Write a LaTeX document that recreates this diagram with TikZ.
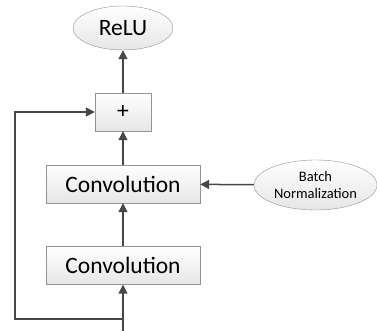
\documentclass[tikz,border=0pt]{standalone}
\usepackage{fontspec}
\setmainfont{Carlito}
\usetikzlibrary{arrows.meta,positioning,shapes.geometric}

\begin{document}
\begin{tikzpicture}[
  x=1pt, y=-1pt,
  block/.style={rectangle, draw=gray!85, top color=white, bottom color=gray!20, inner sep=0pt, font=\fontsize{23.5}{26}\selectfont},
  oval/.style={ellipse, draw=gray!85, top color=white, bottom color=gray!20, inner sep=0pt},
  link/.style={draw=black!72, line width=1.5pt, -{Triangle[length=9pt,width=9pt]}}
]
\useasboundingbox (0,0) rectangle (377,331);

% ==================
% Blocks
% ==================
\node[oval, minimum width=100pt, minimum height=44pt, font=\fontsize{23.5}{26}\selectfont] (relu) at (123,28) {ReLU};
\node[block, minimum width=56pt, minimum height=38pt] (add) at (123,112) {+};
\node[block, minimum width=154pt, minimum height=38pt] (conv1) at (123,184) {Convolution};
\node[block, minimum width=154pt, minimum height=38pt] (conv2) at (123,265.5) {Convolution};
\node[oval, minimum width=123pt, minimum height=50pt, align=center, font=\fontsize{14.5}{17}\selectfont] (bn) at (315.5,185) {Batch\\Normalization};

% ==================
% Skip path
% ==================
\coordinate (in) at (123,331);
\coordinate (split) at (123,319);
\coordinate (low) at (15,319);
\coordinate (high) at (15,112);

% ==================
% Connectors
% ==================
\draw[link] (in) -- (conv2);
\draw[link] (conv2) -- (conv1);
\draw[link] (conv1) -- (add);
\draw[link] (add) -- (relu);
\draw[link] (bn) -- (conv1);
\draw[link] (split) -- (low) -- (high) -- (add);
\end{tikzpicture}
\end{document}
